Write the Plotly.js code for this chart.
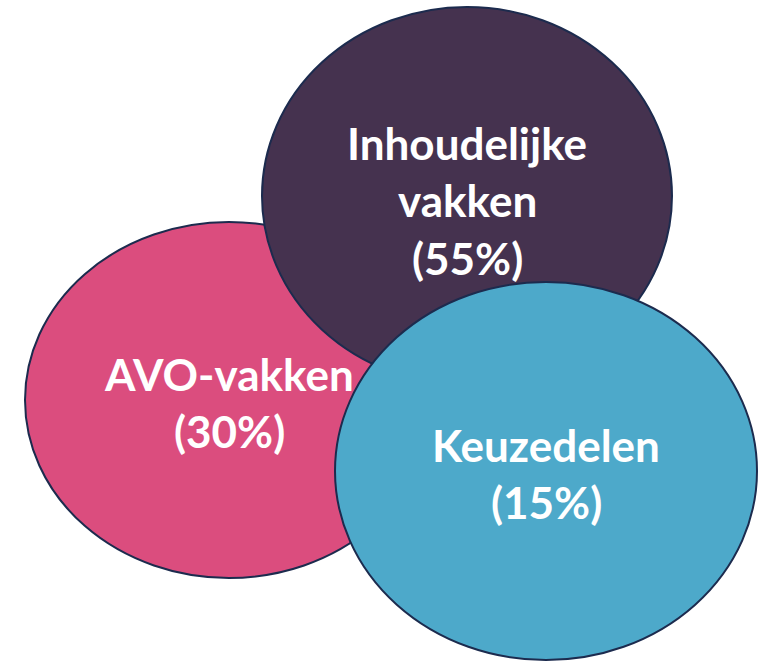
<!DOCTYPE html>
<html>
<head>
<meta charset="utf-8">
<script src="https://cdn.plot.ly/plotly-3.0.1.min.js"></script>
<style>html,body{margin:0;padding:0;background:#fff;}#chart{width:769px;height:661px;}</style>
</head>
<body>
<div id="chart"></div>
<script>
// Data
const categories = ["AVO-vakken", "Inhoudelijke vakken", "Keuzedelen"];
const labelLines = [["AVO-vakken"], ["Inhoudelijke", "vakken"], ["Keuzedelen"]];
const shares = [30, 55, 15];

// Layout geometry (pixel space) and styles
const geom = [
  {cx: 229, cy: 400, rx: 204, ry: 178, lineY: [374, 431]},
  {cx: 467, cy: 196, rx: 205, ry: 189, lineY: [143, 200, 258]},
  {cx: 546, cy: 471, rx: 211, ry: 189, lineY: [445, 502]}
];
const fills = ["#DB4D7E", "#45324F", "#4DA9CA"];
const outline = "#1C2B4E";

const shapes = geom.map((g, i) => ({
  type: "circle", xref: "x", yref: "y", layer: "above",
  x0: g.cx - g.rx, x1: g.cx + g.rx, y0: g.cy - g.ry, y1: g.cy + g.ry,
  fillcolor: fills[i], line: {color: outline, width: 2}
}));

const annotations = [];
geom.forEach((g, i) => {
  const lines = labelLines[i].concat(["(" + shares[i] + "%)"]);
  lines.forEach((t, j) => {
    annotations.push({
      x: g.cx, y: g.lineY[j], xref: "x", yref: "y", text: t, showarrow: false,
      xanchor: "center", yanchor: "middle",
      font: {family: "Lato, 'Open Sans', sans-serif", size: 44, color: "#ffffff", weight: "bold"}
    });
  });
});

const layout = {
  width: 769, height: 661,
  margin: {l: 0, r: 0, t: 0, b: 0},
  paper_bgcolor: "#ffffff", plot_bgcolor: "#ffffff",
  xaxis: {range: [0, 769], visible: false, fixedrange: true},
  yaxis: {range: [661, 0], visible: false, fixedrange: true},
  shapes: shapes,
  annotations: annotations,
  showlegend: false
};

Plotly.newPlot("chart", [{x: [], y: [], type: "scatter", hoverinfo: "skip"}], layout, {displayModeBar: false, staticPlot: true});
</script>
</body>
</html>
